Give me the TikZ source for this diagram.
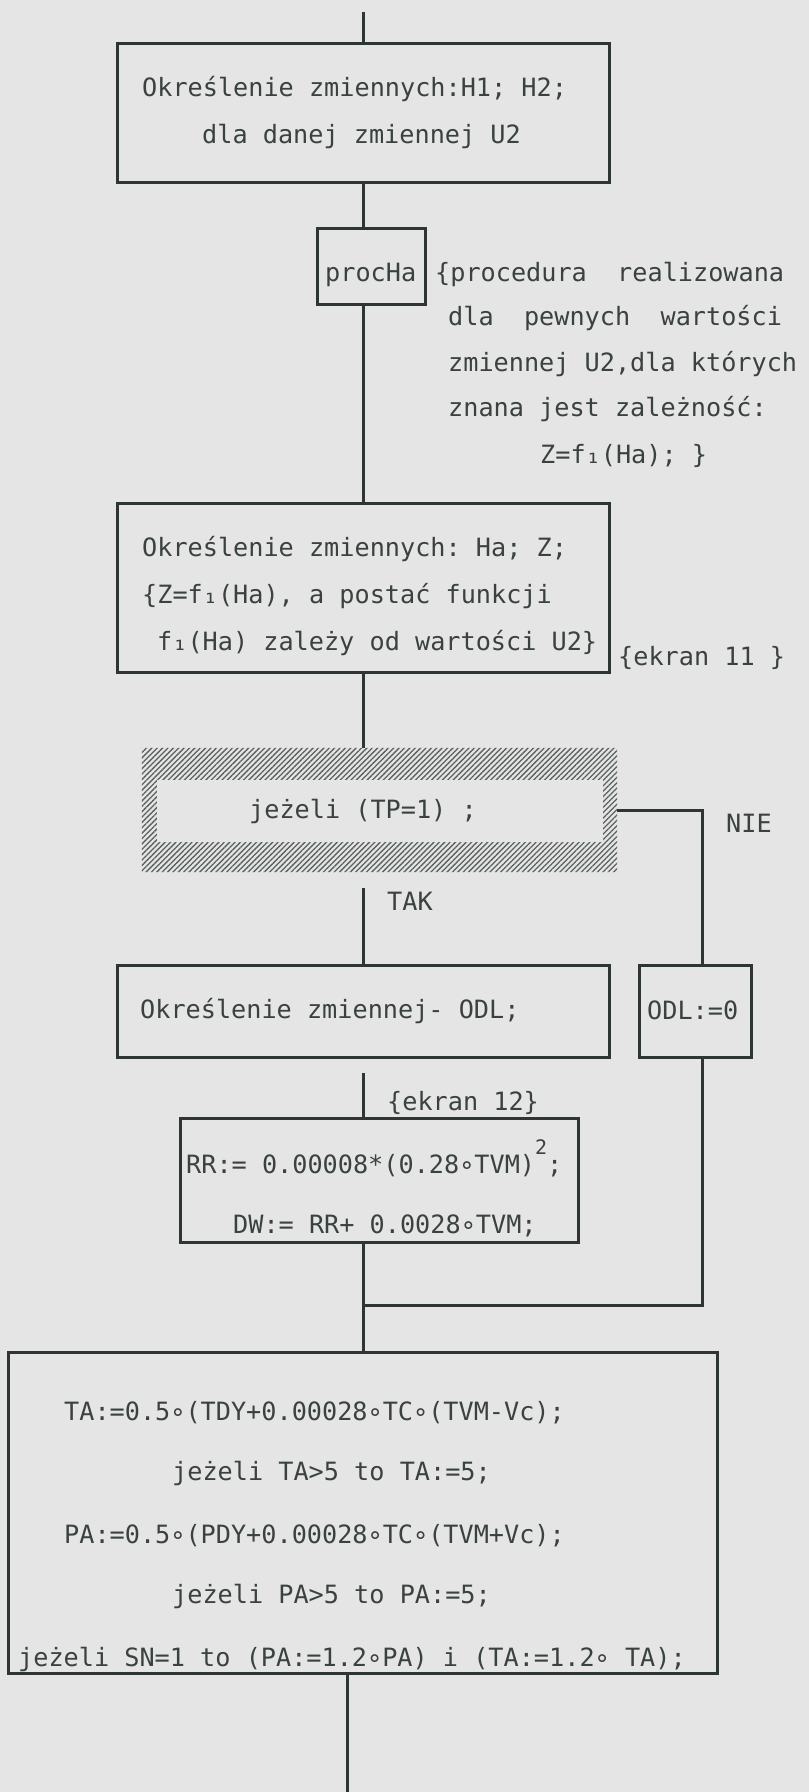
\documentclass[tikz,border=0pt]{standalone}
\usepackage{fontspec}
\setmonofont{DejaVu Sans Mono}
\usetikzlibrary{patterns.meta}
\definecolor{paper}{HTML}{E4E5E4}
\definecolor{ink}{HTML}{2E3535}
\definecolor{txt}{HTML}{3A4141}
\definecolor{hatchc}{HTML}{5A6160}
\tikzset{
  boxnode/.style={draw=ink, line width=3pt, inner sep=0pt},
  conn/.style={draw=ink, line width=3pt},
  lbl/.style={font=\ttfamily\fontsize{25.2}{30}\selectfont, text=txt, inner sep=0pt, anchor=base west},
}
\begin{document}
\begin{tikzpicture}[x=1pt,y=-1pt]
\fill[paper] (0,0) rectangle (809,1792);
\useasboundingbox (0,0) rectangle (809,1792);

% boxes
\node[boxnode, minimum width=492pt, minimum height=139pt] (b1) at (363,112.5) {};
\node[boxnode, minimum width=108pt, minimum height=76pt] (proc) at (371,266) {};
\node[boxnode, minimum width=492pt, minimum height=169pt] (b3) at (363,587.5) {};
\node[inner sep=0pt, minimum width=475pt, minimum height=124pt] (hat) at (379.5,810) {};
\node[boxnode, minimum width=492pt, minimum height=92pt] (b4) at (363,1011) {};
\node[boxnode, minimum width=112pt, minimum height=92pt] (odl) at (695,1011) {};
\node[boxnode, minimum width=398pt, minimum height=124pt] (rr) at (379,1180) {};
\node[boxnode, minimum width=709pt, minimum height=321pt] (big) at (363,1512.5) {};

% hatched frame of the decision
\fill[pattern={Lines[angle=45,distance=3.8pt,line width=1.3pt]}, pattern color=hatchc, even odd rule]
  (hat.north west) rectangle (hat.south east)
  ([shift={(15,32)}]hat.north west) rectangle ([shift={(-14,-30)}]hat.south east);

% coordinates for connector ends
\coordinate (top) at (363,12);
\coordinate (nie) at (702,810);
\coordinate (tak) at (363,888);
\coordinate (gap4) at (363,1073);
\coordinate (merge) at (363,1305);
\coordinate (bot) at (347,1792);

% connectors
\draw[conn] (top) -- (b1.north);
\draw[conn] (b1.south) -- (b1.south |- proc.north);
\draw[conn] (b1.south |- proc.south) -- (b3.north);
\draw[conn] (b3.south) -- (b3.south |- hat.north);
\draw[conn] (hat.east) -- (nie) -- (nie |- odl.north);
\draw[conn] (tak) -- (b4.north);
\draw[conn] (gap4) -- (gap4 |- rr.north);
\draw[conn] (gap4 |- rr.south) -- (big.north);
\draw[conn] (nie |- odl.south) -- (nie |- merge) -- (merge);
\draw[conn] (big.south -| bot) -- (bot);

% texts
\node[lbl] (t1a) at (142,96) {Określenie zmiennych:H1; H2;};
\node[lbl] (t1b) at (202,143) {dla danej zmiennej U2};
\node[lbl] (tproc) at (325,281) {procHa};
\node[lbl] (c1) at (435,281) {\{procedura~~realizowana};
\node[lbl] (c2) at (448,325) {dla~~pewnych~~wartości};
\node[lbl] (c3) at (448,371) {zmiennej U2,dla których};
\node[lbl] (c4) at (448,416) {znana jest zależność:};
\node[lbl] (c5) at (540,463) {Z=f₁(Ha); \}};
\node[lbl] (t3a) at (142,556) {Określenie zmiennych: Ha; Z;};
\node[lbl] (t3b) at (142,603) {\{Z=f₁(Ha), a postać funkcji};
\node[lbl] (t3c) at (157,650) {f₁(Ha) zależy od wartości U2\}};
\node[lbl] (e11) at (618,665) {\{ekran 11 \}};
\node[lbl] (tif) at (249,818) {jeżeli (TP=1) ;};
\node[lbl] (tnie) at (726,832) {NIE};
\node[lbl] (ttak) at (387,910) {TAK};
\node[lbl] (t4) at (140,1018) {Określenie zmiennej- ODL;};
\node[lbl] (todl) at (647,1019) {ODL:=0};
\node[lbl] (e12) at (387,1110) {\{ekran 12\}};
\node[lbl] (trr) at (186,1173) {RR:= 0.00008*(0.28∘TVM)\raisebox{0.75em}{\fontsize{20}{20}\selectfont 2};};
\node[lbl] (tdw) at (233,1233) {DW:= RR+ 0.0028∘TVM;};
\node[lbl] (ta1) at (64,1420) {TA:=0.5∘(TDY+0.00028∘TC∘(TVM-Vc);};
\node[lbl] (ta2) at (172,1480) {jeżeli TA>5 to TA:=5;};
\node[lbl] (pa1) at (64,1543) {PA:=0.5∘(PDY+0.00028∘TC∘(TVM+Vc);};
\node[lbl] (pa2) at (172,1603) {jeżeli PA>5 to PA:=5;};
\node[lbl] (sn) at (18,1666) {jeżeli SN=1 to (PA:=1.2∘PA) i (TA:=1.2∘ TA);};
\end{tikzpicture}
\end{document}
